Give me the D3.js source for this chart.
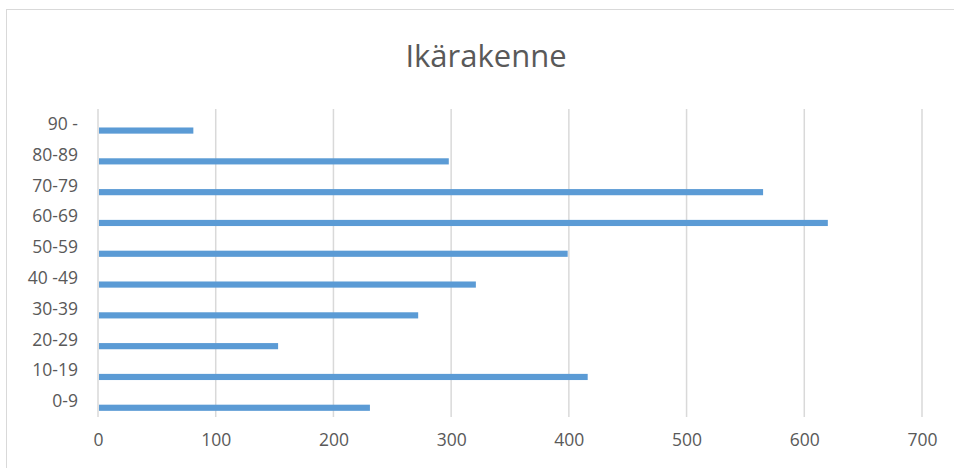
<!DOCTYPE html>
<head>
	<script src="https://d3js.org/d3.v7.min.js"></script>
	<style>
		body { margin: 0; background: #fff; }
		.title { font-family: "Open Sans"; font-size: 31px; fill: #595959; }
		.tick text { font-family: "Open Sans"; font-size: 17.5px; fill: #595959; }
	</style>
</head>
<body>
	<script>
		var categories = ["0-9", "10-19", "20-29", "30-39", "40 -49", "50-59", "60-69", "70-79", "80-89", "90 -"];
		var values = [231, 416, 153, 272, 321, 399, 620, 565, 298, 81];
		var xTicks = [0, 100, 200, 300, 400, 500, 600, 700];

		var width = 954, height = 468;
		var plot = { left: 98, right: 922, top: 109, bottom: 417 };

		var svg = d3.select("body").append("svg")
			.attr("width", width)
			.attr("height", height);

		// chart border
		svg.append("rect")
			.attr("x", 6.5).attr("y", 9.5)
			.attr("width", 1000).attr("height", 1000)
			.attr("fill", "none")
			.attr("stroke", "#d9d9d9");

		svg.append("text")
			.attr("class", "title")
			.attr("x", 486).attr("y", 67)
			.attr("text-anchor", "middle")
			.text("Ikärakenne");

		var x = d3.scaleLinear().domain([0, 700]).range([plot.left, plot.right]);
		// bottom category first
		var y = d3.scaleBand().domain(categories.slice().reverse()).range([plot.top, plot.bottom]);

		// gridlines
		svg.append("g").selectAll("line")
			.data(xTicks)
			.enter().append("line")
			.attr("x1", d => x(d)).attr("x2", d => x(d))
			.attr("y1", plot.top).attr("y2", plot.bottom)
			.attr("stroke", "#d9d9d9")
			.attr("stroke-width", 1.5);

		// bars
		svg.append("g").selectAll("rect")
			.data(categories)
			.enter().append("rect")
			.attr("x", x(0) + 1)
			.attr("y", d => y(d) + y.bandwidth() * 0.6)
			.attr("width", (d, i) => x(values[i]) - x(0) - 1)
			.attr("height", y.bandwidth() * 0.2)
			.attr("fill", "#5b9bd5");

		var xAxis = d3.axisBottom(x).tickValues(xTicks).tickSize(0).tickPadding(17);
		svg.append("g")
			.attr("transform", "translate(0," + plot.bottom + ")")
			.call(xAxis)
			.call(g => g.select(".domain").remove());

		var yAxis = d3.axisLeft(y).tickSize(0).tickPadding(20);
		svg.append("g")
			.attr("transform", "translate(" + plot.left + ",0)")
			.call(yAxis)
			.call(g => g.select(".domain").remove());
	</script>
</body>
</html>
